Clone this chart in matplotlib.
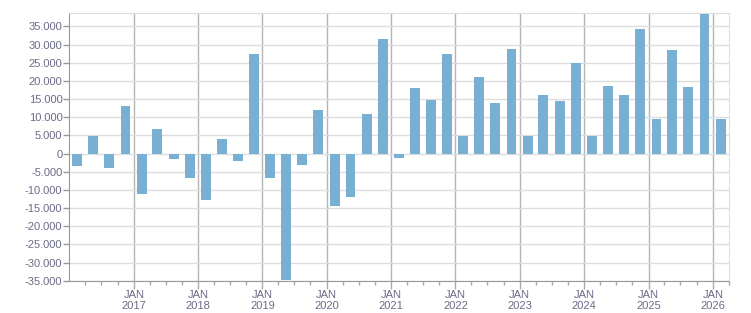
import matplotlib
matplotlib.use("Agg")
import matplotlib.pyplot as plt
import matplotlib.dates as mdates
from matplotlib.ticker import FuncFormatter, MultipleLocator, FixedLocator
import datetime as dt

plt.rcParams['font.family'] = ['Liberation Sans', 'DejaVu Sans']

tick_years = list(range(2017, 2027))
quarters = [f"{y}-Q{q}" for y in range(2016, 2026) for q in range(1, 5)] + ["2026-Q1"]
values = [
    -3400, 4800, -4000, 13000,
    -11100, 6700, -1500, -6700,
    -12750, 3900, -2000, 27300,
    -6700, -34800, -3100, 11900,
    -14400, -11900, 10800, 31500,
    -1200, 18000, 14700, 27300,
    4800, 21000, 13900, 28700,
    4800, 16100, 14400, 24900,
    4800, 18500, 16100, 34200,
    9450, 28400, 18300, 38300,
    9450,
]

def q_mid(label):
    y, q = label.split("-Q")
    return dt.datetime(int(y), 3 * int(q) - 1, 15)

dates = [q_mid(q) for q in quarters]

fig = plt.figure(figsize=(7.51, 3.13), dpi=100)
ax = fig.add_axes([0.0923, 0.1032, 0.878, 0.8543])

ax.bar(dates, values, width=56, color='#78b0d4', zorder=3)

ax.set_xlim(dt.datetime(2016, 1, 1), dt.datetime(2026, 4, 1))
ax.set_ylim(-35000, 38600)

ax.yaxis.set_major_locator(MultipleLocator(5000))
ax.yaxis.set_major_formatter(FuncFormatter(lambda v, p: f"{int(round(v)):,}".replace(",", ".")))

major_dates = [mdates.date2num(dt.datetime(y, 1, 1)) for y in tick_years]
ax.xaxis.set_major_locator(FixedLocator(major_dates))
ax.xaxis.set_minor_locator(mdates.MonthLocator(bymonth=[4, 7, 10]))
ax.xaxis.set_major_formatter(FuncFormatter(lambda v, p: "JAN\n" + str(mdates.num2date(v).year)))

txt = '#6b6b88'
ax.tick_params(axis='y', which='major', length=4, width=1, color='#999999', labelsize=8, labelcolor=txt, pad=1)
ax.tick_params(axis='x', which='major', length=6, width=1, color='#aaaaaa', labelsize=8, labelcolor=txt, pad=1)
ax.tick_params(axis='x', which='minor', length=3, width=1, color='#aaaaaa')
for lbl in ax.get_xticklabels():
    lbl.set_linespacing(1.1)

ax.grid(axis='y', color='#dddddd', linewidth=1, zorder=0)
ax.grid(axis='x', which='major', color='#b5b5b5', linewidth=1, zorder=1)

for s in ['top', 'right']:
    ax.spines[s].set_color('#dddddd')
for s in ['left', 'bottom']:
    ax.spines[s].set_color('#999999')

fig.savefig("out.png", dpi=100)
